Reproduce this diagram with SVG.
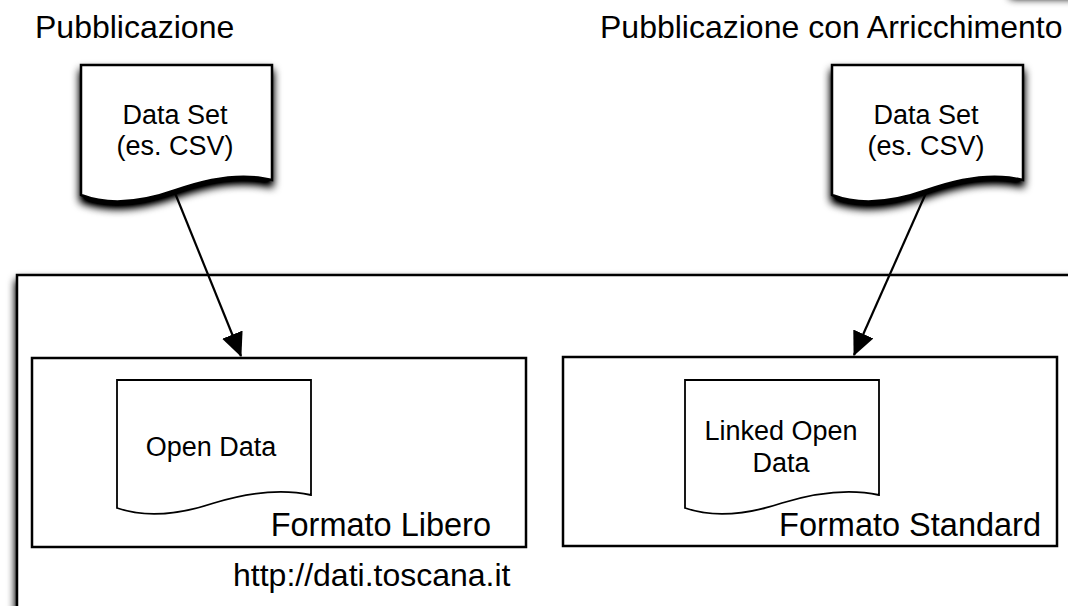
<svg xmlns="http://www.w3.org/2000/svg" width="1068" height="606" viewBox="0 0 1068 606">
  <style>
    text { font-family: "Liberation Sans", Arial, Helvetica, sans-serif; fill: #000; }
    .title { font-size: 32px; }
    .fmt { font-size: 32.5px; text-anchor: end; }
    .lbl { font-size: 27px; text-anchor: middle; }
    .doc { fill: #fff; stroke: #000; stroke-width: 2.5; stroke-linejoin: miter; }
    .doc2 { fill: #fff; stroke: #000; stroke-width: 1.8; }
    .box { fill: #fff; stroke: #000; stroke-width: 2.5; }
    .conn { stroke: #000; stroke-width: 2.2; fill: none; }
  </style>
  <defs>
    <filter id="shadow" x="-20%" y="-20%" width="140%" height="150%">
      <feGaussianBlur in="SourceAlpha" stdDeviation="4" result="blur"/>
      <feOffset in="blur" dx="0" dy="6" result="off"/>
      <feComponentTransfer in="off" result="sh"><feFuncA type="linear" slope="1.3"/></feComponentTransfer>
      <feMerge><feMergeNode in="sh"/><feMergeNode in="SourceGraphic"/></feMerge>
    </filter>
    <marker id="arrow" markerUnits="userSpaceOnUse" markerWidth="24" markerHeight="22" refX="23" refY="11" orient="auto">
      <path d="M0,0 L24,11 L0,22 Z" fill="#000"/>
    </marker>
  </defs>
  <rect width="1068" height="606" fill="#fff"/>

  <!-- shadow of element off-canvas at top right -->
  <rect x="1010" y="-120" width="120" height="112" fill="#fff" filter="url(#shadow)"/>

  <text class="title" x="35" y="38">Pubblicazione</text>
  <text class="title" x="600" y="38">Pubblicazione con Arricchimento</text>

  <g id="container">
    <rect class="box" x="17" y="275" width="1120" height="400" stroke-width="3" filter="url(#shadow)"/>
    <text class="title" x="233" y="586">http://dati.toscana.it</text>
  </g>

  <g id="formato-libero">
    <rect class="box" x="32" y="358" width="494" height="189"/>
    <text class="fmt" x="491" y="536">Formato Libero</text>
  </g>

  <g id="formato-standard">
    <rect class="box" x="563" y="357" width="494" height="189"/>
    <text class="fmt" x="1041" y="536">Formato Standard</text>
  </g>

  <g id="dataset-left">
    <path class="doc" filter="url(#shadow)" d="M81,65 L272,65 L272,180 Q232,170 176,190 Q120,210 81,195 Z"/>
    <text class="lbl" x="175" y="124">Data Set</text>
    <text class="lbl" x="175" y="155">(es. CSV)</text>
  </g>

  <g id="dataset-right">
    <path class="doc" filter="url(#shadow)" d="M832,65 L1023,65 L1023,180 Q983,170 927,190 Q871,210 832,195 Z"/>
    <text class="lbl" x="926" y="124">Data Set</text>
    <text class="lbl" x="926" y="155">(es. CSV)</text>
  </g>

  <g id="open-data">
    <path class="doc2" d="M117,380 L311,380 L311,495 Q270,486 214,503 Q157,522 117,508 Z"/>
    <text class="lbl" x="211" y="456">Open Data</text>
  </g>

  <g id="linked-open-data">
    <path class="doc2" d="M685,380 L879,380 L879,495 Q838,486 782,503 Q725,522 685,508 Z"/>
    <text class="lbl" x="781" y="440">Linked Open</text>
    <text class="lbl" x="781" y="472">Data</text>
  </g>

  <g id="connectors">
    <line class="conn" x1="175" y1="193" x2="241" y2="356" marker-end="url(#arrow)"/>
    <line class="conn" x1="926" y1="193" x2="854" y2="355" marker-end="url(#arrow)"/>
  </g>
</svg>
